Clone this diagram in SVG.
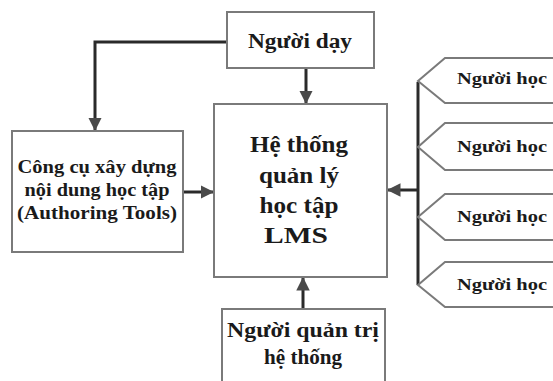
<svg xmlns="http://www.w3.org/2000/svg" width="553" height="381" viewBox="0 0 553 381">
  <style>
    .box { fill: #fff; stroke: #7a7a7a; stroke-width: 2; }
    .line { fill: none; stroke: #2a2a2a; stroke-width: 3; }
    .txt { font-family: "Liberation Serif", "Times New Roman", serif; font-weight: bold; fill: #1a1a1a; text-anchor: middle; }
  </style>
  <defs>
    <marker id="arrow" viewBox="0 0 10 10" refX="10" refY="5" markerWidth="4.5" markerHeight="4.5" markerUnits="strokeWidth" orient="auto">
      <path d="M0,0 L10,5 L0,10 Z" fill="#4a4a4a"/>
    </marker>
  </defs>
  <rect width="553" height="381" fill="#fff"/>

  <g id="connectors">
    <path class="line" d="M227,42 H95 V131" marker-end="url(#arrow)"/>
    <path class="line" d="M306,68 V104" marker-end="url(#arrow)"/>
    <path class="line" d="M183,192 H214" marker-end="url(#arrow)"/>
    <path class="line" d="M303,309 V277" marker-end="url(#arrow)"/>
    <path class="line" d="M418,82 V285"/>
    <path class="line" d="M418,190 H387" marker-end="url(#arrow)"/>
  </g>

  <g id="teacher">
    <rect class="box" x="227" y="12" width="147" height="56"/>
    <text class="txt" x="300" y="48" font-size="21" textLength="104" lengthAdjust="spacingAndGlyphs">Người dạy</text>
  </g>

  <g id="lms">
    <rect class="box" x="214" y="104" width="173" height="173"/>
    <text class="txt" x="299" y="152" font-size="24" textLength="98" lengthAdjust="spacingAndGlyphs">Hệ thống</text>
    <text class="txt" x="299" y="183" font-size="24" textLength="80" lengthAdjust="spacingAndGlyphs">quản lý</text>
    <text class="txt" x="299" y="213" font-size="24" textLength="79" lengthAdjust="spacingAndGlyphs">học tập</text>
    <text class="txt" x="296" y="243" font-size="24" textLength="64" lengthAdjust="spacingAndGlyphs">LMS</text>
  </g>

  <g id="authoring">
    <rect class="box" x="12" y="131" width="171" height="121"/>
    <text class="txt" x="97" y="173" font-size="18" textLength="159" lengthAdjust="spacingAndGlyphs">Công cụ xây dựng</text>
    <text class="txt" x="97" y="196" font-size="18" textLength="145" lengthAdjust="spacingAndGlyphs">nội dung học tập</text>
    <text class="txt" x="97" y="219" font-size="18" textLength="160" lengthAdjust="spacingAndGlyphs">(Authoring Tools)</text>
  </g>

  <g id="admin">
    <rect class="box" x="222" y="309" width="163" height="80"/>
    <text class="txt" x="303" y="337" font-size="20" textLength="152" lengthAdjust="spacingAndGlyphs">Người quản trị</text>
    <text class="txt" x="303" y="364" font-size="20" textLength="78" lengthAdjust="spacingAndGlyphs">hệ thống</text>
  </g>

  <g id="learner1">
    <path class="box" d="M556,58 H445 L418,81 L445,103 H556"/>
    <text class="txt" x="502" y="84" font-size="17" textLength="90" lengthAdjust="spacingAndGlyphs">Người học</text>
  </g>
  <g id="learner2">
    <path class="box" d="M556,123 H445 L418,147 L445,170 H556"/>
    <text class="txt" x="502" y="152" font-size="17" textLength="90" lengthAdjust="spacingAndGlyphs">Người học</text>
  </g>
  <g id="learner3">
    <path class="box" d="M556,194 H445 L418,217 L445,240 H556"/>
    <text class="txt" x="502" y="222" font-size="17" textLength="90" lengthAdjust="spacingAndGlyphs">Người học</text>
  </g>
  <g id="learner4">
    <path class="box" d="M556,262 H445 L418,285 L445,307 H556"/>
    <text class="txt" x="502" y="290" font-size="17" textLength="90" lengthAdjust="spacingAndGlyphs">Người học</text>
  </g>
</svg>
